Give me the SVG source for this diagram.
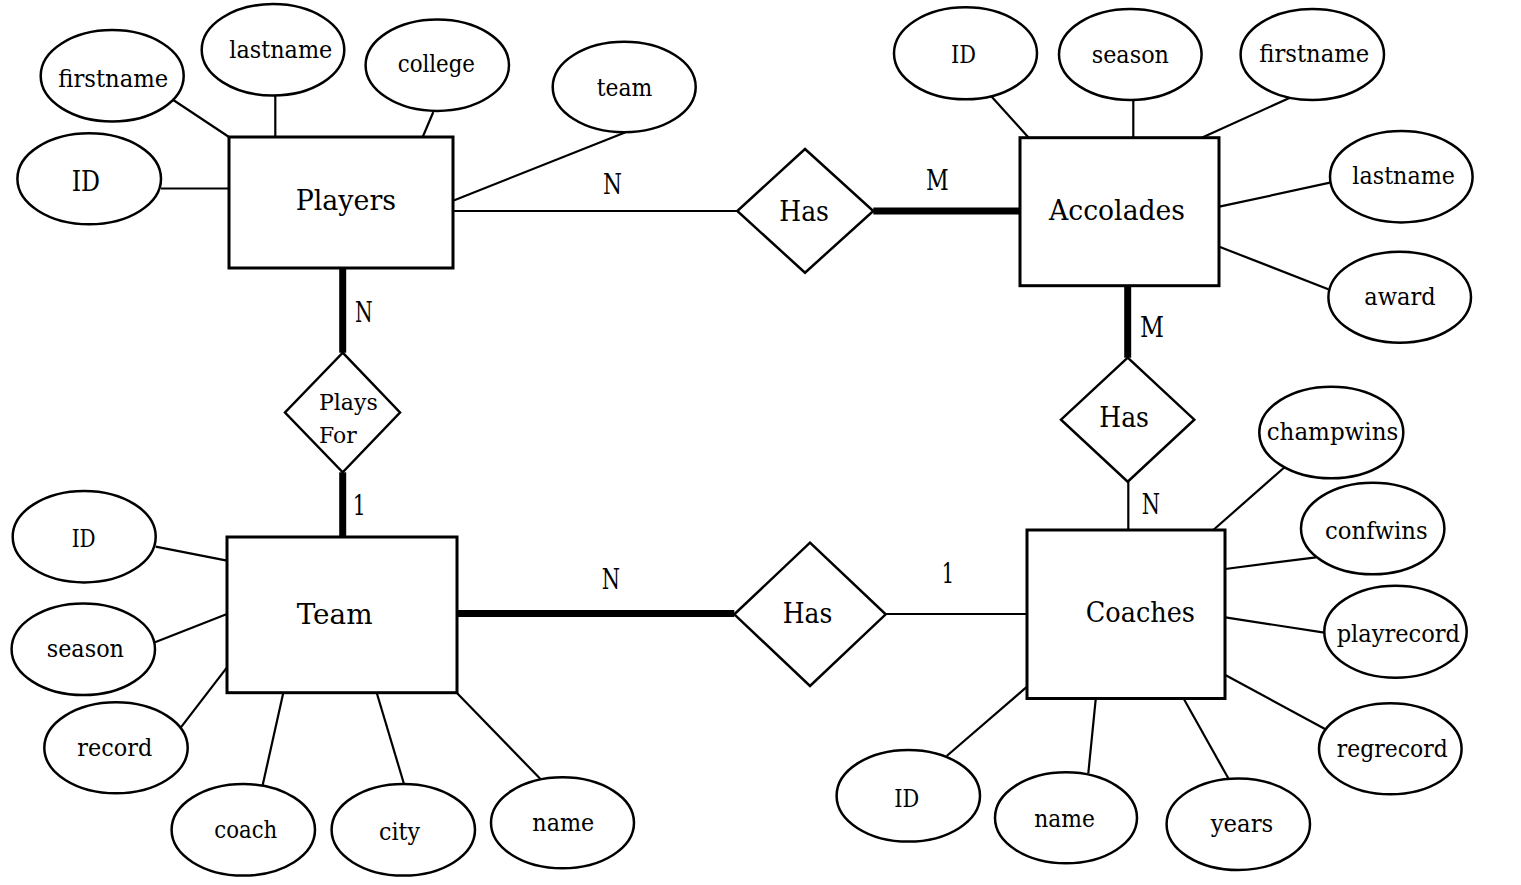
<svg xmlns="http://www.w3.org/2000/svg" width="1521" height="885" viewBox="0 0 1521 885">
<style>
text{font-family:"DejaVu Serif","Liberation Serif",serif;fill:#000}
.big{font-size:28px}
.att{font-size:24px}
.pf{font-size:23px}
.ent{fill:#fff;stroke:#000;stroke-width:3}
.attr{fill:#fff;stroke:#000;stroke-width:2.5}
.rel{fill:#fff;stroke:#000;stroke-width:2.5;stroke-linejoin:miter}
.ln{stroke:#000;stroke-width:2.2;fill:none}
.thick{stroke:#000;stroke-width:7;fill:none}
</style>
<rect width="1521" height="885" fill="#fff"/>
<g id="connectors">
<line class="ln" x1="173.3" y1="100" x2="229" y2="137"/>
<line class="ln" x1="275.3" y1="95.7" x2="275.3" y2="137"/>
<line class="ln" x1="433.3" y1="112" x2="422.7" y2="137"/>
<line class="ln" x1="161" y1="188.5" x2="229" y2="188.5"/>
<line class="ln" x1="453" y1="200.7" x2="625" y2="132.5"/>
<line class="ln" x1="453" y1="211" x2="737.3" y2="211"/>
<line class="thick" x1="873.3" y1="211" x2="1020" y2="211"/>
<line class="thick" x1="342.7" y1="268" x2="342.7" y2="352.7"/>
<line class="thick" x1="342.7" y1="472.3" x2="342.7" y2="537"/>
<line class="ln" x1="991.7" y1="96.7" x2="1028.5" y2="137.5"/>
<line class="ln" x1="1133.3" y1="100" x2="1133.3" y2="137.7"/>
<line class="ln" x1="1290" y1="97.7" x2="1201.7" y2="137.7"/>
<line class="ln" x1="1219.3" y1="206.7" x2="1330" y2="182.7"/>
<line class="ln" x1="1219.3" y1="246.7" x2="1328.3" y2="289.3"/>
<line class="thick" x1="1127.7" y1="285.7" x2="1127.7" y2="357.7"/>
<line class="ln" x1="1128.3" y1="481.7" x2="1128.3" y2="530"/>
<line class="ln" x1="1286" y1="466" x2="1213.3" y2="530"/>
<line class="ln" x1="1225.3" y1="569" x2="1316" y2="557.3"/>
<line class="ln" x1="1225.3" y1="617.3" x2="1324.3" y2="632.7"/>
<line class="ln" x1="1225.3" y1="675" x2="1325" y2="729"/>
<line class="ln" x1="1095.7" y1="699.3" x2="1088.3" y2="773.3"/>
<line class="ln" x1="1184" y1="699.3" x2="1228.3" y2="778.3"/>
<line class="ln" x1="1027" y1="686.7" x2="946.7" y2="756"/>
<line class="ln" x1="885.7" y1="614" x2="1027" y2="614"/>
<line class="thick" x1="457" y1="613.5" x2="734.3" y2="613.5"/>
<line class="ln" x1="155.7" y1="546.7" x2="227" y2="560.7"/>
<line class="ln" x1="155" y1="642.3" x2="227" y2="614"/>
<line class="ln" x1="180.7" y1="727.7" x2="227" y2="667.3"/>
<line class="ln" x1="283.3" y1="692.7" x2="262.7" y2="785"/>
<line class="ln" x1="376.7" y1="692.7" x2="404" y2="784"/>
<line class="ln" x1="456.7" y1="692.7" x2="540.7" y2="779.3"/>
<text class="big" x="603" y="194.3" textLength="19" lengthAdjust="spacingAndGlyphs">N</text>
<text class="big" x="926" y="190" textLength="22.7" lengthAdjust="spacingAndGlyphs">M</text>
<text class="big" x="355" y="322.3" textLength="17.7" lengthAdjust="spacingAndGlyphs">N</text>
<text class="big" x="352.7" y="515" textLength="13" lengthAdjust="spacingAndGlyphs">1</text>
<text class="big" x="1140" y="337.3" textLength="24" lengthAdjust="spacingAndGlyphs">M</text>
<text class="big" x="1141.7" y="514.3" textLength="18.3" lengthAdjust="spacingAndGlyphs">N</text>
<text class="big" x="941.7" y="583.3" textLength="12.3" lengthAdjust="spacingAndGlyphs">1</text>
<text class="big" x="601.7" y="589.3" textLength="18.3" lengthAdjust="spacingAndGlyphs">N</text>
</g>
<g id="players"><rect class="ent" x="229" y="137" width="224" height="131"/><text class="big" x="295.7" y="210" textLength="100.3" lengthAdjust="spacingAndGlyphs">Players</text></g>
<g id="accolades"><rect class="ent" x="1020" y="137.7" width="199" height="148"/><text class="big" x="1049" y="220" textLength="136" lengthAdjust="spacingAndGlyphs">Accolades</text></g>
<g id="team"><rect class="ent" x="227" y="537" width="230" height="155.7"/><text class="big" x="296.7" y="624.3" textLength="76" lengthAdjust="spacingAndGlyphs">Team</text></g>
<g id="coaches"><rect class="ent" x="1027" y="530" width="198" height="168.5"/><text class="big" x="1085.7" y="621.7" textLength="109.3" lengthAdjust="spacingAndGlyphs">Coaches</text></g>
<g id="has-players-accolades"><polygon class="rel" points="805,149 873.3,211 805,272.7 737.3,211"/><text class="big" x="779.3" y="220.7" textLength="49.7" lengthAdjust="spacingAndGlyphs">Has</text></g>
<g id="plays-for"><polygon class="rel" points="342.7,352.7 400,412.5 342.7,472.3 285,412.5"/><text class="pf" x="319" y="410" textLength="58.7" lengthAdjust="spacingAndGlyphs">Plays</text><text class="pf" x="319" y="442.7" textLength="37.7" lengthAdjust="spacingAndGlyphs">For</text></g>
<g id="has-accolades-coaches"><polygon class="rel" points="1127.7,357.7 1194.3,419.7 1127.7,481.7 1061,419.7"/><text class="big" x="1099.3" y="427.3" textLength="49.7" lengthAdjust="spacingAndGlyphs">Has</text></g>
<g id="has-team-coaches"><polygon class="rel" points="810,542.7 885.7,614.3 810,686 734.3,614.3"/><text class="big" x="782.7" y="622.7" textLength="49.6" lengthAdjust="spacingAndGlyphs">Has</text></g>
<g id="p-firstname"><ellipse class="attr" cx="112.2" cy="75.8" rx="71.5" ry="45.7"/><text class="att" x="58.3" y="87.3" textLength="110" lengthAdjust="spacingAndGlyphs">firstname</text></g>
<g id="p-lastname"><ellipse class="attr" cx="273" cy="49.8" rx="71.3" ry="45.7"/><text class="att" x="229.3" y="58.3" textLength="103" lengthAdjust="spacingAndGlyphs">lastname</text></g>
<g id="p-college"><ellipse class="attr" cx="437.3" cy="65.2" rx="71.7" ry="45.7"/><text class="att" x="397.7" y="71.7" textLength="77.3" lengthAdjust="spacingAndGlyphs">college</text></g>
<g id="p-id"><ellipse class="attr" cx="89.2" cy="178.8" rx="71.8" ry="45.5"/><text class="big" x="71.7" y="190.7" textLength="28.3" lengthAdjust="spacingAndGlyphs">ID</text></g>
<g id="p-team"><ellipse class="attr" cx="624.2" cy="87" rx="71.5" ry="45.3"/><text class="att" x="596.7" y="96" textLength="55.6" lengthAdjust="spacingAndGlyphs">team</text></g>
<g id="a-id"><ellipse class="attr" cx="965.5" cy="53.3" rx="71.5" ry="46"/><text class="att" x="951" y="62.7" textLength="25" lengthAdjust="spacingAndGlyphs">ID</text></g>
<g id="a-season"><ellipse class="attr" cx="1130.3" cy="54.5" rx="71.3" ry="45.5"/><text class="att" x="1091.7" y="63.3" textLength="77.3" lengthAdjust="spacingAndGlyphs">season</text></g>
<g id="a-firstname"><ellipse class="attr" cx="1312.3" cy="54.5" rx="71.7" ry="45.5"/><text class="att" x="1259.3" y="62.3" textLength="110" lengthAdjust="spacingAndGlyphs">firstname</text></g>
<g id="a-lastname"><ellipse class="attr" cx="1401.3" cy="176.7" rx="71.3" ry="45.7"/><text class="att" x="1352.3" y="184.3" textLength="102.7" lengthAdjust="spacingAndGlyphs">lastname</text></g>
<g id="a-award"><ellipse class="attr" cx="1399.7" cy="297.2" rx="71.3" ry="45.5"/><text class="att" x="1364.3" y="305" textLength="71.4" lengthAdjust="spacingAndGlyphs">award</text></g>
<g id="c-champwins"><ellipse class="attr" cx="1331.3" cy="432.5" rx="72" ry="45.8"/><text class="att" x="1266.7" y="440" textLength="131.6" lengthAdjust="spacingAndGlyphs">champwins</text></g>
<g id="c-confwins"><ellipse class="attr" cx="1372.7" cy="528.5" rx="71.7" ry="45.8"/><text class="att" x="1325" y="538.7" textLength="102.7" lengthAdjust="spacingAndGlyphs">confwins</text></g>
<g id="c-playrecord"><ellipse class="attr" cx="1395.5" cy="631.7" rx="71.2" ry="46"/><text class="att" x="1336.7" y="641.7" textLength="123.3" lengthAdjust="spacingAndGlyphs">playrecord</text></g>
<g id="c-regrecord"><ellipse class="attr" cx="1390.3" cy="748.8" rx="71.3" ry="45.5"/><text class="att" x="1336.7" y="756.7" textLength="111" lengthAdjust="spacingAndGlyphs">regrecord</text></g>
<g id="c-years"><ellipse class="attr" cx="1238.3" cy="824.2" rx="71.7" ry="45.8"/><text class="att" x="1210.7" y="831.7" textLength="62.6" lengthAdjust="spacingAndGlyphs">years</text></g>
<g id="c-name"><ellipse class="attr" cx="1066" cy="817.8" rx="71" ry="45.5"/><text class="att" x="1034.3" y="826.7" textLength="60.7" lengthAdjust="spacingAndGlyphs">name</text></g>
<g id="c-id"><ellipse class="attr" cx="908.3" cy="795.8" rx="71.7" ry="45.8"/><text class="att" x="894.3" y="806.7" textLength="25" lengthAdjust="spacingAndGlyphs">ID</text></g>
<g id="t-id"><ellipse class="attr" cx="84.2" cy="536.7" rx="71.5" ry="45.7"/><text class="att" x="71.7" y="546.7" textLength="24" lengthAdjust="spacingAndGlyphs">ID</text></g>
<g id="t-season"><ellipse class="attr" cx="83.3" cy="649.2" rx="71.7" ry="45.8"/><text class="att" x="46.7" y="657.3" textLength="77.3" lengthAdjust="spacingAndGlyphs">season</text></g>
<g id="t-record"><ellipse class="attr" cx="116" cy="747.8" rx="71.7" ry="45.5"/><text class="att" x="77.3" y="756" textLength="75" lengthAdjust="spacingAndGlyphs">record</text></g>
<g id="t-coach"><ellipse class="attr" cx="243.3" cy="829.8" rx="71.7" ry="45.8"/><text class="att" x="214.3" y="838.3" textLength="63" lengthAdjust="spacingAndGlyphs">coach</text></g>
<g id="t-city"><ellipse class="attr" cx="403.3" cy="829.8" rx="71.7" ry="45.8"/><text class="att" x="379" y="840" textLength="41" lengthAdjust="spacingAndGlyphs">city</text></g>
<g id="t-name"><ellipse class="attr" cx="562.5" cy="822.8" rx="71.5" ry="45.5"/><text class="att" x="532.3" y="830.7" textLength="62" lengthAdjust="spacingAndGlyphs">name</text></g>
</svg>
